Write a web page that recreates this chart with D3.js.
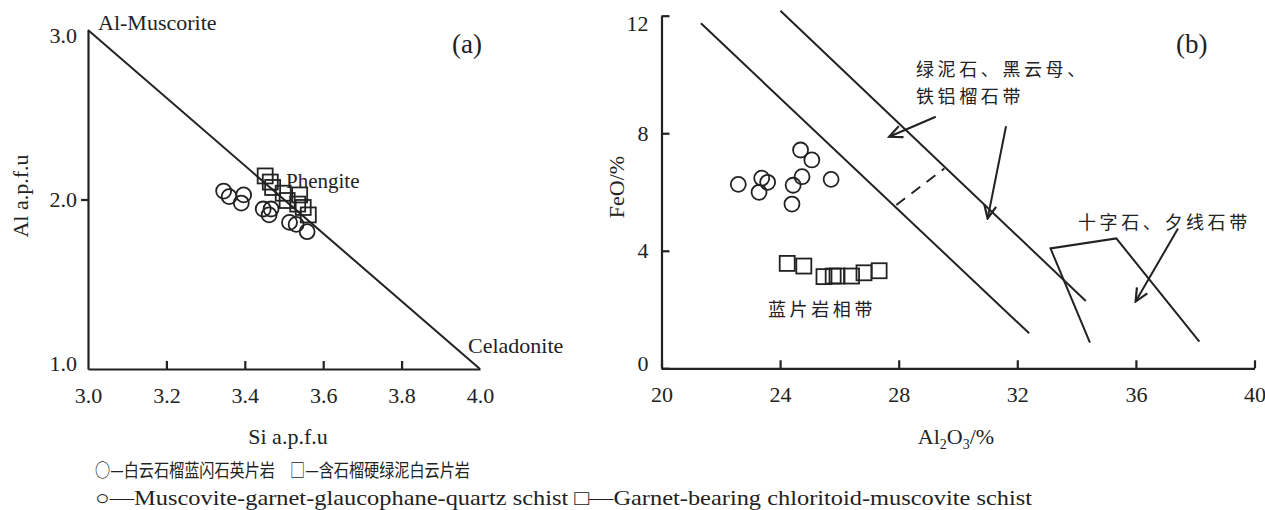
<!DOCTYPE html>
<html>
<head>
<meta charset="utf-8">
<script src="https://cdn.jsdelivr.net/npm/d3@7"></script>
<style>
body { margin: 0; background: #fff; }
text { fill: #222; }
</style>
</head>
<body>
<div id="chart"></div>
<script>
// panel (a): Si vs Al, a.p.f.u
var circlesA = [[3.346,2.050],[3.360,2.017],[3.397,2.027],[3.391,1.979],[3.447,1.944],
                [3.467,1.944],[3.462,1.909],[3.514,1.865],[3.531,1.853],[3.559,1.810]];
var squaresA = [[3.452,2.139],[3.465,2.103],[3.471,2.071],[3.498,2.037],[3.508,1.994],
                [3.540,2.027],[3.535,1.973],[3.549,1.953],[3.562,1.909]];
var ticksAx = [3.0, 3.2, 3.4, 3.6, 3.8, 4.0];
var ticksAy = [1.0, 2.0, 3.0];
var muscCelLine = [[3.0,3.0],[4.0,1.0]];

// panel (b): Al2O3 vs FeO, %
var circlesB = [[22.59,6.26],[23.38,6.47],[23.58,6.33],[23.29,5.99],[24.69,7.43],
                [25.07,7.09],[24.74,6.52],[24.44,6.23],[24.40,5.59],[25.72,6.43]];
var squaresB = [[24.24,3.57],[24.80,3.48],[25.48,3.12],[25.79,3.14],[25.92,3.14],
                [26.41,3.14],[26.83,3.25],[27.34,3.32]];
var ticksBx = [20, 24, 28, 32, 36, 40];
var ticksBy = [0, 4, 8, 12];
var zoneLine1 = [[21.33,11.74],[32.40,1.19]];
var zoneLine2 = [[24.01,12.17],[34.31,2.29]];
var dashLine = [[27.92,5.56],[29.54,6.80]];
var stauroliteLine = [[34.45,0.87],[33.12,4.08],[35.34,4.42],[38.14,0.91]];
var arrows = [[[29.25,8.56],[27.68,7.88]], [[31.62,8.24],[31.00,5.10]], [[37.42,4.76],[35.99,2.27]]];

var legendZh = ["白云石榴蓝闪石英片岩", "含石榴硬绿泥白云片岩"];
var legendEn = ["Muscovite-garnet-glaucophane-quartz schist", "Garnet-bearing chloritoid-muscovite schist"];

var serif = "'Liberation Serif', 'DejaVu Serif', serif";
var cjk = "'Noto Sans CJK SC', sans-serif";
var ink = "#222";

var svg = d3.select("#chart").append("svg")
    .attr("width", 1265)
    .attr("height", 510);

svg.append("defs").append("marker")
    .attr("id", "arr")
    .attr("markerUnits", "userSpaceOnUse")
    .attr("viewBox", "-15 -8 17 16")
    .attr("refX", 0).attr("refY", 0)
    .attr("markerWidth", 17).attr("markerHeight", 16)
    .attr("orient", "auto")
  .append("path")
    .attr("d", "M-13,-6L0,0L-13,6")
    .attr("fill", "none")
    .attr("stroke", ink)
    .attr("stroke-width", 2.2);

function styleAxis(g, size) {
    g.selectAll("path, line").attr("stroke", ink).attr("stroke-width", 2.2);
    g.selectAll("text").attr("font-family", serif).attr("font-size", size).attr("fill", ink);
}

function drawCircles(g, data, x, y) {
    g.selectAll(null).data(data).enter().append("circle")
        .attr("cx", function(d) { return x(d[0]); })
        .attr("cy", function(d) { return y(d[1]); })
        .attr("r", 7.5)
        .attr("fill", "none")
        .attr("stroke", ink)
        .attr("stroke-width", 1.8);
}

function drawSquares(g, data, x, y) {
    var s = 15;
    g.selectAll(null).data(data).enter().append("rect")
        .attr("x", function(d) { return x(d[0]) - s / 2; })
        .attr("y", function(d) { return y(d[1]) - s / 2; })
        .attr("width", s).attr("height", s)
        .attr("fill", "none")
        .attr("stroke", ink)
        .attr("stroke-width", 1.8);
}

// ---------- panel (a)
var xA = d3.scaleLinear().domain([3, 4]).range([88, 480]);
var yA = d3.scaleLinear().domain([1, 3]).range([369, 30]);
var gA = svg.append("g");

var axAx = gA.append("g").attr("transform", "translate(0," + yA(1) + ")")
    .call(d3.axisBottom(xA).tickValues(ticksAx).tickSizeInner(-8).tickSizeOuter(0)
        .tickPadding(18).tickFormat(d3.format(".1f")));
styleAxis(axAx, 22);
axAx.selectAll(".tick line").filter(function(d) { return d === 3 || d === 4; }).remove();

var axAy = gA.append("g").attr("transform", "translate(" + xA(3) + ",0)")
    .call(d3.axisLeft(yA).tickValues(ticksAy).tickSizeInner(7).tickSizeOuter(0)
        .tickPadding(4).tickFormat(d3.format(".1f")));
styleAxis(axAy, 22);
axAy.selectAll(".tick line").filter(function(d) { return d !== 2; }).remove();
axAy.selectAll(".tick text").attr("dy", function(d) { return d === 3 ? "0.55em" : d === 1 ? "0.05em" : "0.32em"; });

var line = d3.line();
gA.append("path")
    .attr("d", line(muscCelLine.map(function(d) { return [xA(d[0]), yA(d[1])]; })))
    .attr("fill", "none").attr("stroke", ink).attr("stroke-width", 2);

drawCircles(gA, circlesA, xA, yA);
drawSquares(gA, squaresA, xA, yA);

gA.append("text").attr("x", 98).attr("y", 30).attr("font-family", serif).attr("font-size", 22).text("Al-Muscorite");
gA.append("text").attr("x", 286).attr("y", 188).attr("font-family", serif).attr("font-size", 21).text("Phengite");
gA.append("text").attr("x", 468).attr("y", 353).attr("font-family", serif).attr("font-size", 22).text("Celadonite");
gA.append("text").attr("x", 452).attr("y", 53).attr("font-family", serif).attr("font-size", 27).text("(a)");
gA.append("text").attr("x", 288).attr("y", 444).attr("text-anchor", "middle")
    .attr("font-family", serif).attr("font-size", 22).text("Si a.p.f.u");
gA.append("text").attr("transform", "translate(28,196) rotate(-90)").attr("text-anchor", "middle")
    .attr("font-family", serif).attr("font-size", 22).text("Al a.p.f.u");

// ---------- panel (b)
var xB = d3.scaleLinear().domain([20, 40]).range([661.5, 1254.5]);
var yB = d3.scaleLinear().domain([0, 12]).range([368.3, 15.7]);
var gB = svg.append("g");

var axBx = gB.append("g").attr("transform", "translate(0," + yB(0) + ")")
    .call(d3.axisBottom(xB).tickValues(ticksBx).tickSizeInner(-8).tickSizeOuter(0).tickPadding(18));
styleAxis(axBx, 22);

var axBy = gB.append("g").attr("transform", "translate(" + xB(20) + ",0)")
    .call(d3.axisLeft(yB).tickValues(ticksBy).tickSizeInner(-8).tickSizeOuter(0).tickPadding(13));
styleAxis(axBy, 22);
axBy.selectAll(".tick text").attr("dy", function(d) { return d === 12 ? "0.65em" : d === 0 ? "0.1em" : "0.32em"; });

function toB(pts) { return pts.map(function(d) { return [xB(d[0]), yB(d[1])]; }); }

[zoneLine1, zoneLine2, stauroliteLine].forEach(function(pts) {
    gB.append("path").attr("d", line(toB(pts)))
        .attr("fill", "none").attr("stroke", ink).attr("stroke-width", 2);
});
gB.append("path").attr("d", line(toB(dashLine)))
    .attr("fill", "none").attr("stroke", ink).attr("stroke-width", 2)
    .attr("stroke-dasharray", "11,8");
arrows.forEach(function(pts) {
    gB.append("path").attr("d", line(toB(pts)))
        .attr("fill", "none").attr("stroke", ink).attr("stroke-width", 2)
        .attr("marker-end", "url(#arr)");
});

drawCircles(gB, circlesB, xB, yB);
drawSquares(gB, squaresB, xB, yB);

// zone labels
function zh(g, x, y, s) {
    g.append("text").attr("x", x).attr("y", y).attr("dominant-baseline", "central")
        .attr("font-family", cjk).attr("font-size", 18).attr("letter-spacing", 3.6).text(s);
}
zh(gB, 916, 68, "绿泥石、黑云母、");
zh(gB, 916, 95, "铁铝榴石带");
zh(gB, 1078, 221, "十字石、夕线石带");
zh(gB, 768, 308, "蓝片岩相带");

gB.append("text").attr("x", 1176).attr("y", 53).attr("font-family", serif).attr("font-size", 27).text("(b)");
var xl = gB.append("text").attr("x", 956).attr("y", 444).attr("text-anchor", "middle")
    .attr("font-family", serif).attr("font-size", 22);
xl.append("tspan").text("Al");
xl.append("tspan").attr("font-size", 14).attr("dy", 5).text("2");
xl.append("tspan").attr("dy", -5).text("O");
xl.append("tspan").attr("font-size", 14).attr("dy", 5).text("3");
xl.append("tspan").attr("dy", -5).text("/%");
gB.append("text").attr("transform", "translate(624,187) rotate(-90)").attr("text-anchor", "middle")
    .attr("font-family", serif).attr("font-size", 22).text("FeO/%");

// ---------- legend
svg.append("text").attr("x", 95).attr("y", 469).attr("dominant-baseline", "central")
    .attr("font-family", cjk).attr("font-size", 18)
    .attr("textLength", 375).attr("lengthAdjust", "spacingAndGlyphs")
    .text("○—" + legendZh[0] + "　□—" + legendZh[1]);
svg.append("text").attr("x", 95).attr("y", 498).attr("dominant-baseline", "central")
    .attr("font-family", serif).attr("font-size", 21)
    .attr("textLength", 937).attr("lengthAdjust", "spacingAndGlyphs")
    .text("○—" + legendEn[0] + "  □—" + legendEn[1]);
</script>
</body>
</html>
